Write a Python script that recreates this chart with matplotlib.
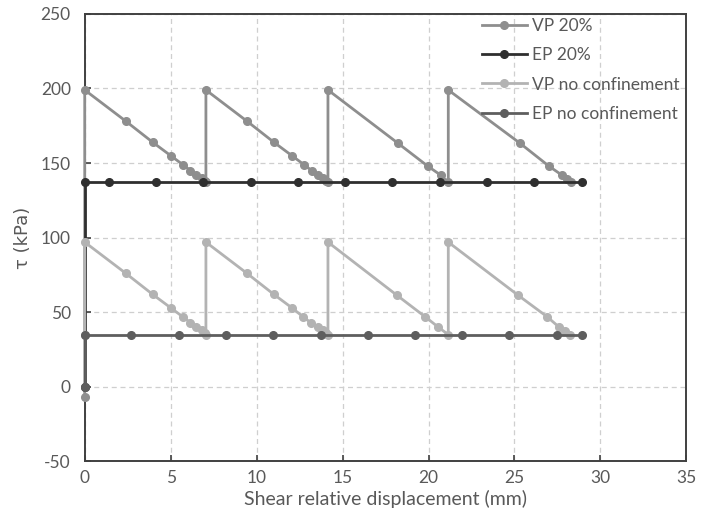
import matplotlib
matplotlib.use("Agg")
import matplotlib.pyplot as plt

plt.rcParams['font.family'] = ['Lato', 'DejaVu Sans']
plt.rcParams['axes.unicode_minus'] = False

# VP 20%
vp20_x = [0, 0, 2.4, 3.95, 5.0, 5.7, 6.15, 6.5, 6.8, 7.0, 7.05,
          7.05, 9.45, 11.0, 12.05, 12.75, 13.2, 13.55, 13.85, 14.05, 14.15,
          14.15, 18.2, 19.95, 20.7, 21.15,
          21.15, 25.3, 27.0, 27.75, 28.05, 28.3]
vp20_y = [-7, 199, 178, 164, 155, 149, 145, 142, 140, 138, 137,
          199, 178, 164, 155, 149, 145, 142, 140, 138, 137,
          199, 163.5, 148, 142, 137,
          199, 163.5, 148, 142, 139.5, 137]

# EP 20%
ep20_x = [0, 0, 1.4, 4.15, 6.9, 9.65, 12.4, 15.15, 17.9, 20.65, 23.4, 26.15, 28.9]
ep20_y = [0, 137, 137, 137, 137, 137, 137, 137, 137, 137, 137, 137, 137]

# VP no confinement
vpnc_x = [0, 0, 2.4, 3.95, 5.0, 5.7, 6.15, 6.5, 6.8, 7.0, 7.05,
          7.05, 9.45, 11.0, 12.05, 12.7, 13.15, 13.55, 13.85, 14.05, 14.15,
          14.15, 18.15, 19.8, 20.57, 21.15,
          21.15, 25.2, 26.9, 27.6, 27.95, 28.25]
vpnc_y = [35, 97, 76, 62, 53, 47, 43, 40, 38, 36, 35,
          97, 76, 62, 53, 47, 43, 40, 38, 36, 35,
          97, 61.5, 47, 40, 35,
          97, 61.5, 47, 40, 37.5, 35]

# EP no confinement
epnc_x = [0, 0, 2.72, 5.47, 8.21, 10.97, 13.72, 16.46, 19.22, 21.97, 24.71, 27.47, 28.9]
epnc_y = [0, 35, 35, 35, 35, 35, 35, 35, 35, 35, 35, 35, 35]

series = [
    ("VP 20%", vp20_x, vp20_y, "#8e8e8e"),
    ("EP 20%", ep20_x, ep20_y, "#2f2f2f"),
    ("VP no confinement", vpnc_x, vpnc_y, "#b3b3b3"),
    ("EP no confinement", epnc_x, epnc_y, "#5e5e5e"),
]

fig = plt.figure(figsize=(7.12, 5.15), dpi=100)
ax = fig.add_axes([0.119, 0.104, 0.845, 0.869])

for name, xs, ys, col in series:
    ax.plot(xs, ys, color=col, lw=2.0, marker='o', ms=5.5, label=name, clip_on=False)

ax.set_xlim(0, 35)
ax.set_ylim(-50, 250)
ax.set_xticks(range(0, 36, 5))
ax.set_yticks(range(-50, 251, 50))
ax.grid(True, color='#cfcfcf', ls=(0, (4, 3)), lw=0.9)
ax.set_axisbelow(True)

for sp in ax.spines.values():
    sp.set_color('#404040')
    sp.set_linewidth(1.4)
    sp.set_zorder(1.5)

ax.tick_params(direction='in', length=4, width=1.2, color='#404040',
               labelsize=12.5, labelcolor='#595959', pad=10)
ax.tick_params(axis='x', pad=6)

ax.set_xlabel("Shear relative displacement (mm)", fontsize=14, color='#595959', labelpad=3)
ax.set_ylabel("τ (kPa)", fontsize=13, color='#595959', labelpad=6,
              family=['DejaVu Sans'])

leg = ax.legend(loc='upper right', frameon=False, fontsize=12.5, handlelength=2.6,
                handletextpad=0.3, labelspacing=0.76, borderaxespad=0.0,
                bbox_to_anchor=(1.0, 1.006))
for t in leg.get_texts():
    t.set_color('#595959')

fig.savefig("out.png", dpi=100)
